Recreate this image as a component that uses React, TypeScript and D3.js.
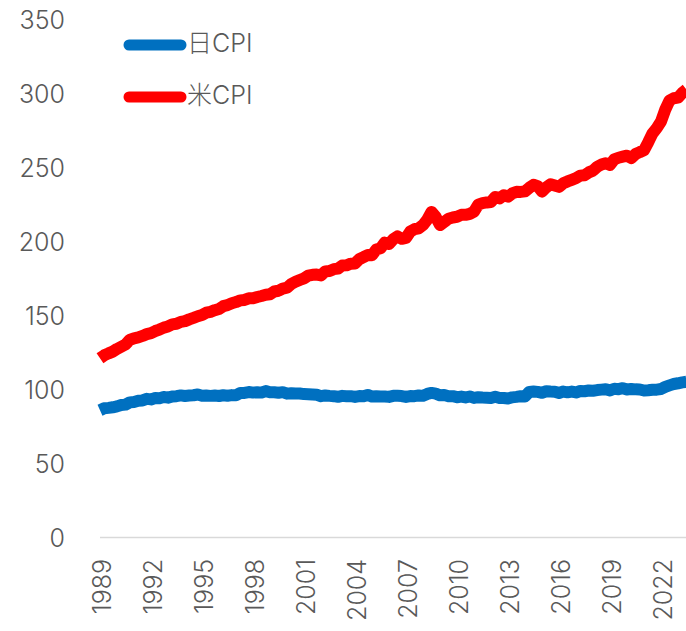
import { useEffect, useRef } from "react";
import * as d3 from "d3";

// quarterly values (Jan, Apr, Jul, Oct) starting 1989
const startYear = 1989;

const usCpi = [
  121.1, 123.1, 124.4, 125.6,
  127.4, 128.9, 130.4, 133.5,
  134.6, 135.2, 136.2, 137.4,
  138.1, 139.5, 140.5, 141.8,
  142.6, 144.0, 144.4, 145.7,
  146.2, 147.4, 148.4, 149.5,
  150.3, 151.9, 152.5, 153.6,
  154.4, 156.3, 157.0, 158.3,
  159.1, 160.2, 160.5, 161.6,
  161.6, 162.5, 163.2, 164.0,
  164.3, 166.2, 166.7, 168.2,
  168.8, 171.3, 172.8, 174.0,
  175.1, 176.9, 177.5, 177.7,
  177.1, 179.8, 180.1, 181.3,
  181.7, 183.8, 183.9, 185.0,
  185.2, 188.0, 189.4, 190.9,
  190.7, 194.6, 195.4, 199.2,
  198.3, 201.5, 203.5, 201.8,
  202.4, 206.7, 208.3, 208.9,
  211.1, 214.8, 220.0, 216.6,
  211.1, 213.2, 215.4, 216.2,
  216.7, 218.0, 218.0, 218.7,
  220.2, 224.9, 225.9, 226.4,
  226.7, 230.1, 229.1, 231.3,
  230.3, 232.5, 233.6, 233.5,
  233.9, 236.3, 238.3, 237.4,
  233.7, 236.6, 238.7, 237.8,
  236.9, 239.3, 240.6, 241.7,
  242.8, 244.5, 244.8, 246.7,
  247.9, 250.5, 252.0, 252.9,
  251.7, 255.5, 256.6, 257.3,
  258.0, 256.4, 259.1, 260.4,
  261.6, 267.1, 273.0, 276.6,
  281.1, 289.1, 295.3, 296.8,
  297.2, 300.4, 302.7,
];

const jpCpi = [
  86.0, 87.3, 87.6, 88.0,
  88.6, 89.5, 89.8, 91.3,
  91.6, 92.4, 92.6, 93.7,
  93.3, 94.2, 94.1, 94.9,
  94.5, 95.3, 95.5, 96.0,
  95.6, 95.9, 96.1, 96.6,
  95.8, 95.9, 95.7, 95.9,
  95.6, 96.1, 95.8, 96.2,
  96.1, 97.7, 97.7, 98.3,
  97.9, 98.2, 97.9, 98.9,
  98.1, 98.1, 97.8, 98.2,
  97.2, 97.5, 97.3, 97.3,
  96.9, 96.8, 96.6, 96.4,
  95.5, 96.0, 95.7, 95.5,
  95.1, 95.7, 95.5, 95.5,
  95.0, 95.6, 95.4, 96.3,
  95.2, 95.4, 95.2, 95.3,
  95.0, 95.7, 95.7, 95.6,
  95.0, 95.6, 95.5, 96.0,
  95.7, 97.0, 97.7, 97.2,
  96.1, 96.3, 95.5, 95.5,
  94.8, 95.2, 94.6, 95.3,
  94.3, 94.8, 94.6, 94.5,
  94.3, 95.1, 94.3, 94.3,
  93.9, 94.7, 95.0, 95.5,
  95.3, 98.4, 98.6, 98.4,
  97.8, 98.8, 98.6, 98.5,
  97.7, 98.6, 98.1, 98.6,
  98.0, 99.0, 98.8, 99.3,
  99.2, 99.6, 99.9, 100.2,
  99.4, 100.5, 100.2, 100.9,
  100.0, 100.4, 100.1, 100.0,
  99.3, 99.5, 99.8, 99.9,
  100.3, 101.8, 102.8, 103.7,
  104.2, 104.8, 105.2,
];

const yTicks = [0, 50, 100, 150, 200, 250, 300, 350];
const xTicks = [1989, 1992, 1995, 1998, 2001, 2004, 2007, 2010, 2013, 2016, 2019, 2022];

const seriesNames = ["日CPI", "米CPI"];
const seriesColors = ["#0070C0", "#FF0000"];

const WIDTH = 686;
const HEIGHT = 631;
const FONT = "Inter, 'Noto Sans CJK JP', sans-serif";

export default function App() {
  const ref = useRef<SVGSVGElement | null>(null);

  useEffect(() => {
    if (!ref.current) return;
    const svg = d3.select(ref.current);
    svg.selectAll("*").remove();

    const x = d3.scaleLinear().domain([1989, 2023.5]).range([100, 686.5]);
    const y = d3.scaleLinear().domain([0, 350]).range([537.5, 19.5]);

    // y labels (no axis line)
    svg
      .append("g")
      .selectAll("text")
      .data(yTicks)
      .join("text")
      .attr("x", 65)
      .attr("y", (d) => y(d))
      .attr("dy", "0.36em")
      .attr("text-anchor", "end")
      .attr("fill", "#595959")
      .style("font-family", FONT)
      .style("font-weight", 300)
      .style("font-size", "25px")
      .text((d) => d);

    // x axis line
    svg
      .append("line")
      .attr("x1", x(1989))
      .attr("x2", WIDTH)
      .attr("y1", y(0))
      .attr("y2", y(0))
      .attr("stroke", "#d9d9d9")
      .attr("stroke-width", 1.5);

    // x labels rotated
    svg
      .append("g")
      .selectAll("text")
      .data(xTicks)
      .join("text")
      .attr("transform", (d) => `translate(${x(d) + 1.5},559) rotate(-90)`)
      .attr("dy", "0.36em")
      .attr("text-anchor", "end")
      .attr("fill", "#595959")
      .style("font-family", FONT)
      .style("font-weight", 300)
      .style("font-size", "25px")
      .text((d) => d);

    const line = d3
      .line<number>()
      .x((_, i) => x(startYear + i / 4))
      .y((d) => y(d));

    [jpCpi, usCpi].forEach((series, i) => {
      svg
        .append("path")
        .datum(series)
        .attr("d", line)
        .attr("fill", "none")
        .attr("stroke", seriesColors[i])
        .attr("stroke-width", 12)
        .attr("stroke-linejoin", "round");
    });

    // legend
    const legend = svg
      .append("g")
      .selectAll("g")
      .data(seriesNames)
      .join("g")
      .attr("transform", (_, i) => `translate(0,${45 + i * 52})`);

    legend
      .append("line")
      .attr("x1", 129)
      .attr("x2", 181)
      .attr("stroke", (_, i) => seriesColors[i])
      .attr("stroke-width", 11)
      .attr("stroke-linecap", "round");

    legend
      .append("text")
      .attr("x", 187)
      .attr("y", -2)
      .attr("dy", "0.36em")
      .attr("fill", "#595959")
      .style("font-family", FONT)
      .style("font-weight", 300)
      .style("font-size", "25px")
      .text((d) => d);
  }, []);

  return (
    <svg
      ref={ref}
      width={WIDTH}
      height={HEIGHT}
      style={{ position: "absolute", left: 0, top: 0, background: "#fff" }}
    />
  );
}
